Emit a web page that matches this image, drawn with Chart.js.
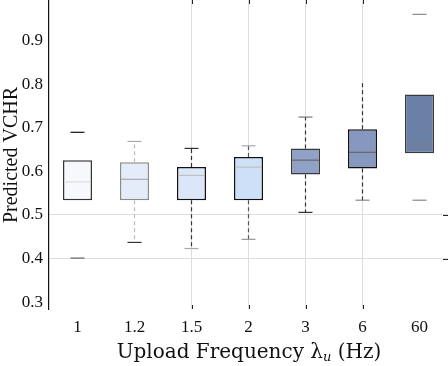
<!DOCTYPE html>
<html>
<head>
<meta charset="utf-8">
<script src="https://cdn.jsdelivr.net/npm/chart.js@4/dist/chart.umd.min.js"></script>
<style>
  html, body { margin: 0; padding: 0; background: #fff; }
  #wrap { width: 448px; height: 366px; }
</style>
</head>
<body>
<div id="wrap"><canvas id="chart" width="448" height="366"></canvas></div>
<script>
const categories = ["1", "1.2", "1.5", "2", "3", "6", "60"];
const q1 = [0.534, 0.534, 0.534, 0.534, 0.593, 0.607, 0.642];
const q3 = [0.626, 0.621, 0.610, 0.633, 0.653, 0.697, 0.777];
const medians = [0.576, 0.582, 0.591, 0.610, 0.626, 0.644, 0.663];
const whiskerLow = [0.401, 0.437, 0.423, 0.444, 0.506, 0.534, 0.534];
const whiskerHigh = [0.690, 0.669, 0.653, 0.659, 0.725, 0.803, 0.961];
const yTicks = [0.3, 0.4, 0.5, 0.6, 0.7, 0.8, 0.9];

const boxFill = ["#f6f8fc", "#e5ecf9", "#dbe7f8", "#cde0f8", "#8fa1c5", "#8698bf", "#6b80a5"];
const boxEdge = ["#333333", "#8a8a8a", "#111111", "#111111", "#3a3a3a", "#111111", "#3a3a3a"];
const medianColor = ["#dddddd", "#aaaaaa", "#c0c0c0", "#c0c0c0", "#666666", "#666666", "#8a7a7a"];
// whisker line style: color or null for no line
const stemColor = [null, "#bbbbbb", "#333333", "#555555", "#333333", "#333333", null];
const capHighColor = ["#111111", "#aaaaaa", "#333333", "#aaaaaa", "#777777", null, "#888888"];
const capLowColor = ["#666666", "#333333", "#aaaaaa", "#999999", "#333333", "#888888", "#888888"];
const gridCats = ["1.5", "2", "3", "6"];
const gridVals = [0.4, 0.5];

const serif = "'Liberation Serif', 'Times New Roman', serif";
const titleSerif = "'DejaVu Serif', serif";

const boxPlugin = {
  id: "boxParts",
  afterDatasetsDraw(chart) {
    const ctx = chart.ctx;
    const x = chart.scales.x;
    const y = chart.scales.y;
    const area = chart.chartArea;
    const meta = chart.getDatasetMeta(0);
    ctx.save();
    categories.forEach((c, i) => {
      const bar = meta.data[i];
      const cx = bar.x;
      const half = bar.width / 2;
      const yMed = y.getPixelForValue(medians[i]);
      const yQ1 = y.getPixelForValue(q1[i]);
      const yQ3 = y.getPixelForValue(q3[i]);
      const yLo = y.getPixelForValue(whiskerLow[i]);
      const yHi = y.getPixelForValue(whiskerHigh[i]);

      // median
      ctx.strokeStyle = medianColor[i];
      ctx.lineWidth = 1.2;
      ctx.setLineDash(i === 6 ? [2, 2] : []);
      ctx.beginPath();
      ctx.moveTo(cx - half + 1, yMed);
      ctx.lineTo(cx + half - 1, yMed);
      ctx.stroke();

      // stems
      if (stemColor[i]) {
        ctx.strokeStyle = stemColor[i];
        ctx.lineWidth = 1.2;
        ctx.setLineDash([4, 3]);
        ctx.beginPath();
        ctx.moveTo(cx, yQ3);
        ctx.lineTo(cx, yHi);
        ctx.moveTo(cx, yQ1);
        ctx.lineTo(cx, yLo);
        ctx.stroke();
      }
      ctx.setLineDash([]);

      // caps
      ctx.lineWidth = 1.2;
      if (capHighColor[i]) {
        ctx.strokeStyle = capHighColor[i];
        ctx.beginPath();
        ctx.moveTo(cx - 7, yHi);
        ctx.lineTo(cx + 7, yHi);
        ctx.stroke();
      }
      if (capLowColor[i]) {
        ctx.strokeStyle = capLowColor[i];
        ctx.beginPath();
        ctx.moveTo(cx - 7, yLo);
        ctx.lineTo(cx + 7, yLo);
        ctx.stroke();
      }
    });

    // small ticks at top and bottom for gridded categories
    ctx.strokeStyle = "#222";
    ctx.lineWidth = 1;
    gridCats.forEach((c) => {
      const px = Math.round(x.getPixelForValue(categories.indexOf(c))) + 0.5;
      ctx.beginPath();
      ctx.moveTo(px, area.top);
      ctx.lineTo(px, area.top + 4);
      ctx.moveTo(px, area.bottom - 4);
      ctx.lineTo(px, area.bottom);
      ctx.stroke();
    });
    gridVals.forEach((v) => {
      const py = Math.round(y.getPixelForValue(v)) + 0.5;
      ctx.beginPath();
      ctx.moveTo(area.right - 5, py);
      ctx.lineTo(area.right, py);
      ctx.stroke();
    });

    // axis titles
    ctx.fillStyle = "#111";
    ctx.textBaseline = "middle";
    ctx.font = "20px " + serif;
    ctx.save();
    ctx.translate(12, 155);
    ctx.rotate(-Math.PI / 2);
    ctx.textAlign = "center";
    ctx.fillText("Predicted VCHR", 0, 0);
    ctx.restore();

    const partA = "Upload Frequency λ";
    const partB = "u";
    const partC = " (Hz)";
    const big = 20;
    const small = 13;
    ctx.font = big + "px " + titleSerif;
    const wA = ctx.measureText(partA).width;
    const wC = ctx.measureText(partC).width;
    ctx.font = "italic " + small + "px " + titleSerif;
    const wB = ctx.measureText(partB).width;
    let sx = 249 - (wA + wB + wC) / 2;
    const ty = 353;
    ctx.textAlign = "left";
    ctx.font = big + "px " + titleSerif;
    ctx.fillText(partA, sx, ty);
    sx += wA;
    ctx.font = "italic " + small + "px " + titleSerif;
    ctx.fillText(partB, sx, ty + 5);
    sx += wB;
    ctx.font = big + "px " + titleSerif;
    ctx.fillText(partC, sx, ty);
    ctx.restore();
  }
};

new Chart(document.getElementById("chart"), {
  type: "bar",
  data: {
    labels: categories,
    datasets: [{
      data: categories.map((c, i) => [q1[i], q3[i]]),
      backgroundColor: boxFill,
      borderColor: boxEdge,
      borderWidth: 1.5,
      borderSkipped: false,
      barPercentage: 0.51,
      categoryPercentage: 1.0
    }]
  },
  options: {
    responsive: false,
    animation: false,
    devicePixelRatio: 1,
    layout: { padding: 0 },
    plugins: { legend: { display: false }, tooltip: { enabled: false } },
    scales: {
      x: {
        offset: true,
        grid: {
          offset: false,
          drawTicks: false,
          color: (ctx) => (ctx.tick && gridCats.includes(categories[ctx.tick.value]) ? "#dddddd" : "rgba(0,0,0,0)"),
          lineWidth: 1
        },
        border: { display: false },
        ticks: {
          color: "#111",
          font: { family: serif, size: 17 },
          padding: 8,
          maxRotation: 0
        },
        afterFit: (s) => { s.height = 57; s.paddingLeft = 0; s.paddingRight = 0; }
      },
      y: {
        min: 0.284,
        max: 0.994,
        afterBuildTicks: (s) => { s.ticks = yTicks.map((v) => ({ value: v })); },
        grid: {
          drawTicks: false,
          color: (ctx) => (ctx.tick && gridVals.some((v) => Math.abs(v - ctx.tick.value) < 1e-6) ? "#dddddd" : "rgba(0,0,0,0)"),
          lineWidth: 1
        },
        border: { display: true, color: "#111", width: 1.2 },
        ticks: {
          color: "#111",
          font: { family: serif, size: 17 },
          padding: 6,
          callback: (v) => Number(v).toFixed(1)
        },
        afterFit: (s) => { s.width = 49; s.paddingTop = 0; s.paddingBottom = 0; }
      }
    }
  },
  plugins: [boxPlugin]
});
</script>
</body>
</html>
